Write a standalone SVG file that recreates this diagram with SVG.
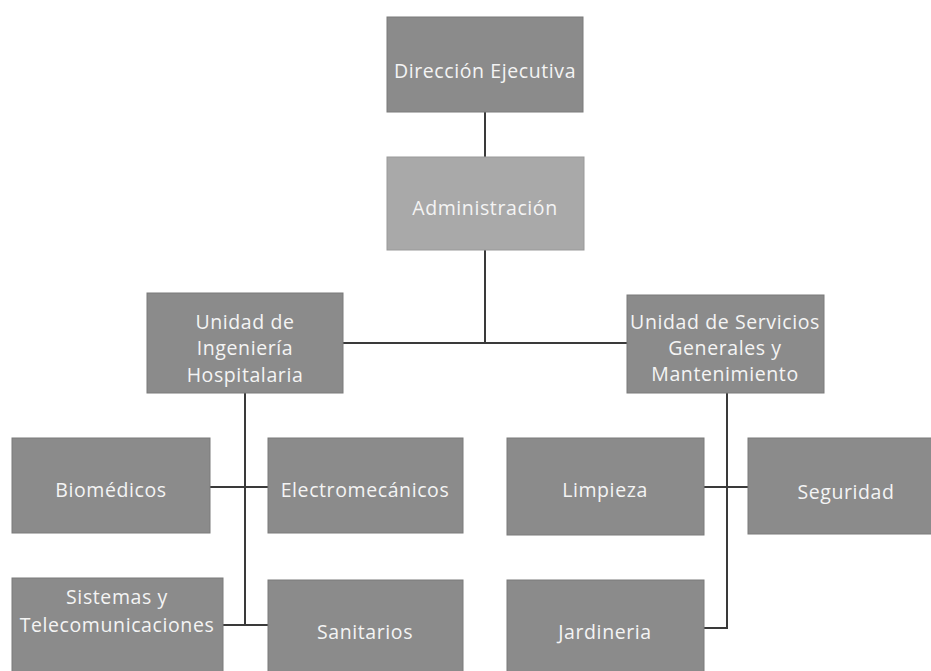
<svg xmlns="http://www.w3.org/2000/svg" width="931" height="671" viewBox="0 0 931 671">
<style>
.box{fill:#8b8b8b;stroke:#7a7a7a;stroke-width:1}
.light{fill:#a9a9a9;stroke:#999;stroke-width:1}
text{font-family:"Open Sans","Liberation Sans",sans-serif;font-size:19.5px;letter-spacing:0.6px;fill:#f4f4f4;text-anchor:middle}
.conn{stroke:#3a3a3a;stroke-width:2;fill:none}
</style>
<rect width="931" height="671" fill="#ffffff"/>
<g id="connectors">
<path class="conn" d="M485,112 V157"/>
<path class="conn" d="M485,250 V343"/>
<path class="conn" d="M343,343 H627"/>
<path class="conn" d="M245,393 V625"/>
<path class="conn" d="M210,487 H268"/>
<path class="conn" d="M223,625 H268"/>
<path class="conn" d="M727,393 V628 H704"/>
<path class="conn" d="M704,487 H748"/>
</g>
<g id="direccion"><rect class="box" x="387" y="17" width="196" height="95"/><text x="485" y="78">Dirección Ejecutiva</text></g>
<g id="administracion"><rect class="light" x="387" y="157" width="197" height="93"/><text x="485" y="215">Administración</text></g>
<g id="ingenieria"><rect class="box" x="147" y="293" width="196" height="100"/><text x="245" y="329">Unidad de</text><text x="245" y="355">Ingeniería</text><text x="245" y="382">Hospitalaria</text></g>
<g id="servicios"><rect class="box" x="627" y="295" width="197" height="98"/><text x="725" y="329">Unidad de Servicios</text><text x="725" y="355">Generales y</text><text x="725" y="381">Mantenimiento</text></g>
<g id="biomedicos"><rect class="box" x="12" y="438" width="198" height="95"/><text x="111" y="497">Biomédicos</text></g>
<g id="electromecanicos"><rect class="box" x="268" y="438" width="195" height="95"/><text x="365" y="497">Electromecánicos</text></g>
<g id="sistemas"><rect class="box" x="12" y="578" width="211" height="100"/><text x="117" y="604">Sistemas y</text><text x="117" y="632">Telecomunicaciones</text></g>
<g id="sanitarios"><rect class="box" x="268" y="580" width="195" height="98"/><text x="365" y="639">Sanitarios</text></g>
<g id="limpieza"><rect class="box" x="507" y="438" width="197" height="97"/><text x="605" y="497">Limpieza</text></g>
<g id="seguridad"><rect class="box" x="748" y="438" width="190" height="96"/><text x="846" y="499">Seguridad</text></g>
<g id="jardineria"><rect class="box" x="507" y="580" width="197" height="98"/><text x="605" y="639">Jardineria</text></g>
</svg>
